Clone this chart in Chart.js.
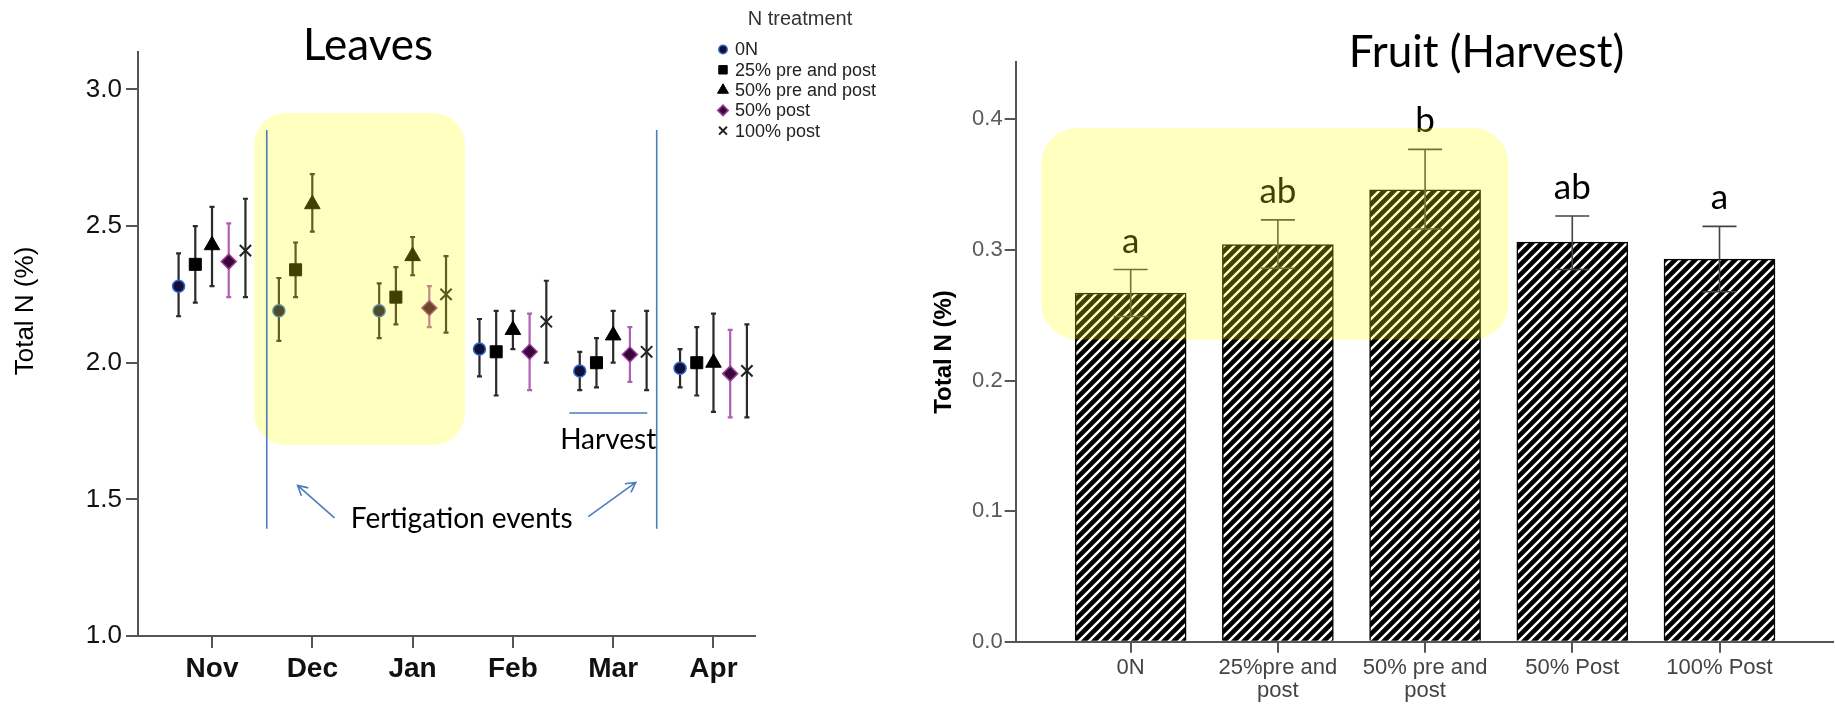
<!DOCTYPE html>
<html>
<head>
<meta charset="utf-8">
<script src="https://cdn.jsdelivr.net/npm/chart.js@4.4.1/dist/chart.umd.min.js"></script>
<style>
  body { margin: 0; background: #fff; }
  canvas { position: absolute; top: 0; }
  #leaves { left: 0; }
  #fruit { left: 900px; }
</style>
</head>
<body>
<canvas id="leaves" width="900" height="705"></canvas>
<canvas id="fruit" width="935" height="705"></canvas>
<script>
// ---- Leaves: total N (%) by month and treatment ----
const months = ['Nov', 'Dec', 'Jan', 'Feb', 'Mar', 'Apr'];
const treatments = ['0N', '25% pre and post', '50% pre and post', '50% post', '100% post'];
const leafTicks = [1.0, 1.5, 2.0, 2.5, 3.0];

// means (null = no sample that month)
const leaf0N      = [2.28, 2.19, 2.19, 2.05, 1.97, 1.98];
const leaf25pp    = [2.36, 2.34, 2.24, 2.04, 2.00, 2.00];
const leaf50pp    = [2.43, 2.58, 2.39, 2.12, 2.10, 2.00];
const leaf50post  = [2.37, null, 2.20, 2.04, 2.03, 1.96];
const leaf100post = [2.41, null, 2.25, 2.15, 2.04, 1.97];

// error bar ends
const leaf0NLo      = [2.17, 2.08, 2.09, 1.95, 1.90, 1.91];
const leaf0NHi      = [2.40, 2.31, 2.29, 2.16, 2.04, 2.05];
const leaf25ppLo    = [2.22, 2.24, 2.14, 1.88, 1.91, 1.88];
const leaf25ppHi    = [2.50, 2.44, 2.35, 2.19, 2.09, 2.13];
const leaf50ppLo    = [2.28, 2.48, 2.32, 2.05, 2.00, 1.82];
const leaf50ppHi    = [2.57, 2.69, 2.46, 2.19, 2.19, 2.18];
const leaf50postLo  = [2.24, null, 2.13, 1.90, 1.93, 1.80];
const leaf50postHi  = [2.51, null, 2.28, 2.18, 2.13, 2.12];
const leaf100postLo = [2.24, null, 2.11, 2.00, 1.90, 1.80];
const leaf100postHi = [2.60, null, 2.39, 2.30, 2.19, 2.14];

// ---- Fruit (harvest) ----
const fruitLabels = ['0N', '25%pre and post', '50% pre and post', '50% Post', '100% Post'];
const fruitMeans  = [0.267, 0.304, 0.346, 0.306, 0.293];
const fruitLo     = [0.249, 0.286, 0.316, 0.285, 0.268];
const fruitHi     = [0.285, 0.323, 0.377, 0.326, 0.318];
const fruitLetters = ['a', 'ab', 'b', 'ab', 'a'];
const fruitTicks  = [0.0, 0.1, 0.2, 0.3, 0.4];

const leafMeans = [leaf0N, leaf25pp, leaf50pp, leaf50post, leaf100post];
const leafLo = [leaf0NLo, leaf25ppLo, leaf50ppLo, leaf50postLo, leaf100postLo];
const leafHi = [leaf0NHi, leaf25ppHi, leaf50ppHi, leaf50postHi, leaf100postHi];

const ARIAL = '"Liberation Sans", Arial, sans-serif';
const CALIBRI = 'Lato, "Open Sans", sans-serif';
const BLUE = '#4a7ebb';
const HIGHLIGHT = 'rgba(255, 255, 0, 0.25)';

// marker look per treatment
const offsets = [-1 / 3, -1 / 6, 0, 1 / 6, 1 / 3];
const markers = [
  { pointStyle: 'circle', radius: 6, bg: '#10103a', border: '#3366cc', bw: 1.5, err: '#2a2a2a' },
  { pointStyle: 'rect', radius: 8.5, bg: '#000', border: '#000', bw: 1, err: '#2a2a2a' },
  { pointStyle: 'triangle', radius: 9, bg: '#000', border: '#000', bw: 1, err: '#2a2a2a' },
  { pointStyle: 'rectRot', radius: 7.5, bg: '#3a0838', border: '#9a3a9a', bw: 1.5, err: '#b060b0' },
  { pointStyle: 'crossRot', radius: 8, bg: '#000', border: '#222', bw: 2, err: '#2a2a2a' },
];

Chart.defaults.font.family = ARIAL;
Chart.defaults.animation = false;

function roundBox(ctx, x1, y1, x2, y2, r) {
  ctx.beginPath();
  ctx.roundRect(x1, y1, x2 - x1, y2 - y1, r);
  ctx.fill();
}

function arrow(ctx, x1, y1, x2, y2) {
  const a = Math.atan2(y2 - y1, x2 - x1);
  ctx.beginPath();
  ctx.moveTo(x1, y1);
  ctx.lineTo(x2, y2);
  ctx.moveTo(x2 - 11 * Math.cos(a - 0.5), y2 - 11 * Math.sin(a - 0.5));
  ctx.lineTo(x2, y2);
  ctx.lineTo(x2 - 11 * Math.cos(a + 0.5), y2 - 11 * Math.sin(a + 0.5));
  ctx.stroke();
}

const leafDecor = {
  id: 'leafDecor',
  beforeDatasetsDraw(chart) {
    const { ctx, scales: { x, y } } = chart;
    ctx.save();
    ctx.lineWidth = 2.2;
    leafMeans.forEach((series, t) => {
      ctx.strokeStyle = markers[t].err;
      series.forEach((v, m) => {
        if (v === null) return;
        const px = x.getPixelForValue(m + offsets[t]);
        const top = y.getPixelForValue(leafHi[t][m]);
        const bot = y.getPixelForValue(leafLo[t][m]);
        ctx.beginPath();
        ctx.moveTo(px, top); ctx.lineTo(px, bot);
        ctx.moveTo(px - 2.5, top); ctx.lineTo(px + 2.5, top);
        ctx.moveTo(px - 2.5, bot); ctx.lineTo(px + 2.5, bot);
        ctx.stroke();
      });
    });
    ctx.restore();
  },
  afterDatasetsDraw(chart) {
    const { ctx, scales: { x, y } } = chart;
    const X = v => x.getPixelForValue(v);
    const Y = v => y.getPixelForValue(v);
    ctx.save();
    // highlight over Dec-Jan
    ctx.fillStyle = HIGHLIGHT;
    roundBox(ctx, X(0.42), Y(2.914), X(2.522), Y(1.699), 32);

    // fertigation markers
    ctx.strokeStyle = BLUE;
    ctx.lineWidth = 1.6;
    ctx.beginPath();
    ctx.moveTo(X(0.546), Y(2.852)); ctx.lineTo(X(0.546), Y(1.392));
    ctx.moveTo(X(4.434), Y(2.852)); ctx.lineTo(X(4.434), Y(1.392));
    ctx.moveTo(X(3.562), Y(1.816)); ctx.lineTo(X(4.340), Y(1.816));
    ctx.stroke();
    arrow(ctx, X(1.221), Y(1.432), X(0.853), Y(1.551));
    arrow(ctx, X(3.752), Y(1.437), X(4.225), Y(1.562));

    ctx.fillStyle = '#000';
    ctx.textAlign = 'center';
    ctx.textBaseline = 'alphabetic';
    ctx.font = '28px ' + CALIBRI;
    ctx.fillText('Harvest', X(3.95), Y(1.686));
    ctx.fillText('Fertigation events', X(2.49), Y(1.396));
    ctx.font = '44px ' + CALIBRI;
    ctx.fillText('Leaves', 368, 60);

    // axis title
    ctx.save();
    ctx.translate(26, 311);
    ctx.rotate(-Math.PI / 2);
    ctx.textBaseline = 'middle';
    ctx.font = '26px ' + ARIAL;
    ctx.fillText('Total N (%)', 0, 0);
    ctx.restore();

    // legend
    ctx.textAlign = 'center';
    ctx.fillStyle = '#333';
    ctx.font = '20px ' + ARIAL;
    ctx.fillText('N treatment', 800, 25);
    ctx.textAlign = 'left';
    ctx.textBaseline = 'middle';
    ctx.font = '18px ' + ARIAL;
    treatments.forEach((name, t) => {
      const ly = 49.5 + 20.3 * t;
      const mk = markers[t];
      ctx.fillStyle = mk.bg;
      ctx.strokeStyle = mk.border;
      ctx.lineWidth = mk.bw;
      Chart.helpers.drawPoint(ctx, { pointStyle: mk.pointStyle, radius: mk.radius * 0.7, rotation: 0, borderWidth: mk.bw }, 723, ly);
      ctx.fillStyle = '#222';
      ctx.fillText(name, 735, ly + 1);
    });
    ctx.restore();
  }
};

new Chart(document.getElementById('leaves'), {
  type: 'scatter',
  data: {
    datasets: treatments.map((name, t) => ({
      label: name,
      data: leafMeans[t].map((v, m) => (v === null ? null : { x: m + offsets[t], y: v })).filter(p => p),
      pointStyle: markers[t].pointStyle,
      pointRadius: markers[t].radius,
      pointBackgroundColor: markers[t].bg,
      pointBorderColor: markers[t].border,
      pointBorderWidth: markers[t].bw,
    })),
  },
  options: {
    responsive: false,
    layout: { padding: { top: 52, right: 145, left: 0, bottom: 0 } },
    plugins: { legend: { display: false }, tooltip: { enabled: false } },
    scales: {
      x: {
        type: 'linear',
        min: -0.738,
        max: 5.414,
        afterFit: s => { s.height = 69; },
        afterBuildTicks: s => { s.ticks = months.map((m, i) => ({ value: i })); },
        grid: { drawOnChartArea: false, color: '#555', lineWidth: 2, tickLength: 12 },
        border: { color: '#555', width: 2 },
        ticks: {
          callback: v => months[v],
          font: { size: 28, weight: 'bold' },
          color: '#111',
          padding: 4,
          maxRotation: 0,
        },
      },
      y: {
        min: 1.0,
        max: 3.137,
        afterFit: s => { s.width = 138; },
        afterBuildTicks: s => { s.ticks = leafTicks.map(v => ({ value: v })); },
        grid: { drawOnChartArea: false, color: '#555', lineWidth: 2, tickLength: 12 },
        border: { color: '#555', width: 2 },
        ticks: {
          callback: v => v.toFixed(1),
          font: { size: 26 },
          color: '#111',
          padding: 4,
        },
      },
    },
  },
  plugins: [leafDecor],
});

// ---- hatch fill for fruit bars ----
function hatchPattern(ctx) {
  const c = document.createElement('canvas');
  c.width = 10; c.height = 10;
  const g = c.getContext('2d');
  g.fillStyle = '#000';
  g.fillRect(0, 0, 10, 10);
  g.strokeStyle = '#fff';
  g.lineWidth = 2.4;
  g.beginPath();
  g.moveTo(-1, 11); g.lineTo(11, -1);
  g.moveTo(-6, 6); g.lineTo(6, -6);
  g.moveTo(4, 16); g.lineTo(16, 4);
  g.stroke();
  return ctx.createPattern(c, 'repeat');
}

const fruitCanvas = document.getElementById('fruit');

const fruitDecor = {
  id: 'fruitDecor',
  afterDatasetsDraw(chart) {
    const { ctx, scales: { x, y } } = chart;
    const X = v => x.getPixelForValue(v);
    const Y = v => y.getPixelForValue(v);
    ctx.save();
    ctx.strokeStyle = '#444';
    ctx.lineWidth = 1.6;
    fruitMeans.forEach((v, i) => {
      const px = X(i), top = Y(fruitHi[i]), bot = Y(fruitLo[i]);
      ctx.beginPath();
      ctx.moveTo(px, top); ctx.lineTo(px, bot);
      ctx.moveTo(px - 17, top); ctx.lineTo(px + 17, top);
      ctx.moveTo(px - 17, bot); ctx.lineTo(px + 17, bot);
      ctx.stroke();
    });

    ctx.fillStyle = '#000';
    ctx.textAlign = 'center';
    ctx.textBaseline = 'alphabetic';
    ctx.font = '35px ' + CALIBRI;
    fruitLetters.forEach((s, i) => {
      ctx.fillText(s, X(i), Y(fruitHi[i]) - 17);
    });

    ctx.fillStyle = HIGHLIGHT;
    roundBox(ctx, X(-0.607), Y(0.3933), X(2.565), Y(0.2314), 36);

    ctx.fillStyle = '#000';
    ctx.font = '44px ' + CALIBRI;
    ctx.fillText('Fruit (Harvest)', X(2.417), 67);

    ctx.save();
    ctx.translate(44.5, 352);
    ctx.rotate(-Math.PI / 2);
    ctx.textBaseline = 'middle';
    ctx.font = 'bold 24px ' + ARIAL;
    ctx.fillText('Total N (%)', 0, 0);
    ctx.restore();
    ctx.restore();
  }
};

new Chart(fruitCanvas, {
  type: 'bar',
  data: {
    datasets: [{
      data: fruitMeans.map((v, i) => ({ x: i, y: v })),
      backgroundColor: hatchPattern(fruitCanvas.getContext('2d')),
      borderColor: '#000',
      borderWidth: 1.5,
      barThickness: 111,
    }],
  },
  options: {
    responsive: false,
    layout: { padding: { top: 62, right: 2, left: 0, bottom: 0 } },
    plugins: { legend: { display: false }, tooltip: { enabled: false } },
    scales: {
      x: {
        type: 'linear',
        min: -0.781,
        max: 4.771,
        offset: false,
        afterFit: s => { s.height = 705 - 641.7; },
        afterBuildTicks: s => { s.ticks = fruitLabels.map((l, i) => ({ value: i })); },
        grid: { offset: false, drawOnChartArea: false, color: '#555', lineWidth: 2, tickLength: 11 },
        border: { color: '#555', width: 2 },
        ticks: {
          callback: v => {
            const l = fruitLabels[v];
            return l.endsWith('and post') ? [l.replace(/ post$/, ''), 'post'] : l;
          },
          font: { size: 22, lineHeight: 1.05 },
          color: '#444',
          padding: 4,
          maxRotation: 0,
          autoSkip: false,
        },
      },
      y: {
        min: 0,
        max: 0.4439,
        afterFit: s => { s.width = 115.7; },
        afterBuildTicks: s => { s.ticks = fruitTicks.map(v => ({ value: v })); },
        grid: { drawOnChartArea: false, color: '#555', lineWidth: 2, tickLength: 11 },
        border: { color: '#555', width: 2 },
        ticks: {
          callback: v => v.toFixed(1),
          font: { size: 22 },
          color: '#5a5a5a',
          padding: 2,
        },
      },
    },
  },
  plugins: [fruitDecor],
});
</script>
</body>
</html>
